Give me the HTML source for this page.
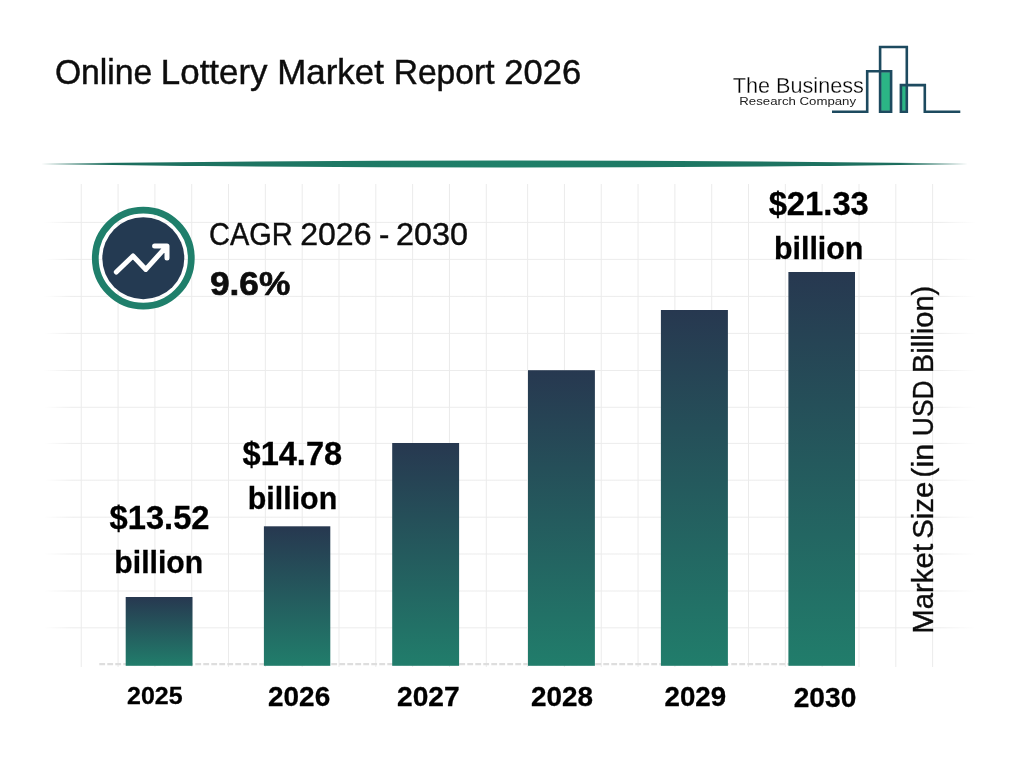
<!DOCTYPE html>
<html lang="en"><head><meta charset="utf-8"><title>Online Lottery Market Report 2026</title>
<style>html,body{margin:0;padding:0;background:#fff;}body{width:1024px;height:768px;overflow:hidden;position:relative;font-family:"Liberation Sans",sans-serif;}svg{display:block;position:absolute;left:0;top:0}text{font-family:"Liberation Sans",sans-serif;}.b{font-weight:bold}</style></head><body>
<svg width="1024" height="768" viewBox="0 0 1024 768">
<defs>
<linearGradient id="bar" x1="0" y1="0" x2="0" y2="1"><stop offset="0" stop-color="#273850"/><stop offset="1" stop-color="#217d6b"/></linearGradient>
<linearGradient id="hl" gradientUnits="userSpaceOnUse" x1="44" y1="0" x2="976" y2="0"><stop offset="0" stop-color="#ececec" stop-opacity="0"/><stop offset="0.03" stop-color="#ececec"/><stop offset="0.96" stop-color="#ececec"/><stop offset="1" stop-color="#ececec" stop-opacity="0"/></linearGradient>
<linearGradient id="div" gradientUnits="userSpaceOnUse" x1="41" y1="0" x2="968" y2="0"><stop offset="0" stop-color="#1c6b5c"/><stop offset="0.5" stop-color="#1f8069"/><stop offset="1" stop-color="#1c6b5c"/></linearGradient>
</defs>
<rect width="1024" height="768" fill="#ffffff"/>
<g id="grid">
<rect x="44" y="221.90" width="932" height="1" fill="url(#hl)"/>
<rect x="44" y="258.90" width="932" height="1" fill="url(#hl)"/>
<rect x="44" y="295.90" width="932" height="1" fill="url(#hl)"/>
<rect x="44" y="332.90" width="932" height="1" fill="url(#hl)"/>
<rect x="44" y="370.00" width="932" height="1" fill="url(#hl)"/>
<rect x="44" y="406.80" width="932" height="1" fill="url(#hl)"/>
<rect x="44" y="442.90" width="932" height="1" fill="url(#hl)"/>
<rect x="44" y="479.70" width="932" height="1" fill="url(#hl)"/>
<rect x="44" y="516.70" width="932" height="1" fill="url(#hl)"/>
<rect x="44" y="553.50" width="932" height="1" fill="url(#hl)"/>
<rect x="44" y="590.50" width="932" height="1" fill="url(#hl)"/>
<rect x="44" y="627.30" width="932" height="1" fill="url(#hl)"/>
<rect x="80.75" y="184" width="1" height="483" fill="#ebebeb"/>
<rect x="117.57" y="184" width="1" height="483" fill="#ebebeb"/>
<rect x="154.39" y="184" width="1" height="483" fill="#ebebeb"/>
<rect x="191.21" y="184" width="1" height="483" fill="#ebebeb"/>
<rect x="228.03" y="184" width="1" height="483" fill="#ebebeb"/>
<rect x="264.85" y="184" width="1" height="483" fill="#ebebeb"/>
<rect x="301.67" y="184" width="1" height="483" fill="#ebebeb"/>
<rect x="338.49" y="184" width="1" height="483" fill="#ebebeb"/>
<rect x="375.31" y="184" width="1" height="483" fill="#ebebeb"/>
<rect x="412.13" y="184" width="1" height="483" fill="#ebebeb"/>
<rect x="448.95" y="184" width="1" height="483" fill="#ebebeb"/>
<rect x="485.77" y="184" width="1" height="483" fill="#ebebeb"/>
<rect x="527.10" y="184" width="1" height="483" fill="#ebebeb"/>
<rect x="563.92" y="184" width="1" height="483" fill="#ebebeb"/>
<rect x="600.74" y="184" width="1" height="483" fill="#ebebeb"/>
<rect x="637.56" y="184" width="1" height="483" fill="#ebebeb"/>
<rect x="674.38" y="184" width="1" height="483" fill="#ebebeb"/>
<rect x="711.20" y="184" width="1" height="483" fill="#ebebeb"/>
<rect x="748.02" y="184" width="1" height="483" fill="#ebebeb"/>
<rect x="784.84" y="184" width="1" height="483" fill="#ebebeb"/>
<rect x="821.66" y="184" width="1" height="483" fill="#ebebeb"/>
<rect x="858.48" y="184" width="1" height="483" fill="#ebebeb"/>
<rect x="895.30" y="184" width="1" height="483" fill="#ebebeb"/>
<rect x="932.12" y="184" width="1" height="483" fill="#ebebeb"/>
</g>
<path id="divider" d="M41,164 Q504.5,157 968,164 Q504.5,171 41,164 Z" fill="url(#div)"/>
<line id="axis" x1="99.3" y1="664.1" x2="790" y2="664.1" stroke="#dedede" stroke-width="2.2" stroke-dasharray="5.8 2.2"/>
<g id="bars">
<rect x="125.7" y="597.0" width="66.8" height="68.8" fill="url(#bar)"/>
<rect x="263.9" y="526.3" width="66.4" height="139.5" fill="url(#bar)"/>
<rect x="392.2" y="443.0" width="66.9" height="222.8" fill="url(#bar)"/>
<rect x="528.0" y="370.2" width="66.9" height="295.6" fill="url(#bar)"/>
<rect x="660.9" y="310.0" width="67.0" height="355.8" fill="url(#bar)"/>
<rect x="788.4" y="272.0" width="66.6" height="393.8" fill="url(#bar)"/>
</g>
<g id="icon"><circle cx="143.3" cy="258.2" r="48" fill="none" stroke="#1f7f6b" stroke-width="6.8"/><circle cx="143.3" cy="258.2" r="41" fill="#243a52"/>
<path d="M116.3,272 L133,256 L145.8,269.4 L166.4,246.6 M154.6,246 H167 V258" fill="none" stroke="#fff" stroke-width="5" stroke-linecap="round" stroke-linejoin="round"/></g>
<g id="logo" fill="none" stroke="#1d4a5f" stroke-width="2.6" stroke-linejoin="miter">
<rect x="881.1" y="72.2" width="9.2" height="38.6" fill="#2bb585" stroke="none"/>
<rect x="901.9" y="86.1" width="4.2" height="24.7" fill="#2bb585" stroke="none"/>
<path d="M832,111.7 H867.2 V71.2 H891.1 V111.7 H880.1 V47 H906.8 V111.7 H900.9 V85.1 H924.8 V111.7 H960.3"/>
</g>
<g id="labels">
<text id="title" font-size="34.57" fill="#0d0d0d" stroke="#0d0d0d" stroke-width="0.45"><tspan x="54.92" y="83.80" textLength="97.38" lengthAdjust="spacingAndGlyphs">Online</tspan> <tspan x="160.83" y="83.80" textLength="106.69" lengthAdjust="spacingAndGlyphs">Lottery</tspan> <tspan x="277.28" y="83.80" textLength="106.59" lengthAdjust="spacingAndGlyphs">Market</tspan> <tspan x="393.63" y="83.80" textLength="100.91" lengthAdjust="spacingAndGlyphs">Report</tspan> <tspan x="504.36" y="83.80" textLength="76.85" lengthAdjust="spacingAndGlyphs">2026</tspan></text>
<text id="logo1" font-size="22.17" fill="#000000" stroke="#ffffff" stroke-width="0.3"><tspan x="732.75" y="92.50" textLength="131.16" lengthAdjust="spacingAndGlyphs">The Business</tspan></text>
<text id="logo2" font-size="11.84" fill="#222222"><tspan x="739.30" y="104.70" textLength="116.73" lengthAdjust="spacingAndGlyphs">Research Company</tspan></text>
<text id="cagr" font-size="30.54" fill="#0d0d0d" stroke="#0d0d0d" stroke-width="0.4"><tspan x="209.07" y="244.90" textLength="83.61" lengthAdjust="spacingAndGlyphs">CAGR</tspan> <tspan x="300.20" y="244.90" textLength="71.34" lengthAdjust="spacingAndGlyphs">2026</tspan> <tspan x="378.96" y="244.90" textLength="10.35" lengthAdjust="spacingAndGlyphs">-</tspan> <tspan x="395.98" y="244.90" textLength="72.19" lengthAdjust="spacingAndGlyphs">2030</tspan></text>
<text id="pct" font-size="32.68" fill="#0d0d0d" stroke="#0d0d0d" stroke-width="0.6" class="b"><tspan x="209.90" y="295.00" textLength="80.39" lengthAdjust="spacingAndGlyphs">9.6%</tspan></text>
<text id="v1a" font-size="32.32" fill="#000" stroke="#000" stroke-width="0.3" class="b"><tspan x="109.57" y="529.00" textLength="99.96" lengthAdjust="spacingAndGlyphs">$13.52</tspan></text>
<text id="v1b" font-size="31.82" fill="#000" stroke="#000" stroke-width="0.3" class="b"><tspan x="114.37" y="572.60" textLength="88.77" lengthAdjust="spacingAndGlyphs">billion</tspan></text>
<text id="v2a" font-size="32.32" fill="#000" stroke="#000" stroke-width="0.3" class="b"><tspan x="242.54" y="464.70" textLength="99.62" lengthAdjust="spacingAndGlyphs">$14.78</tspan></text>
<text id="v2b" font-size="31.82" fill="#000" stroke="#000" stroke-width="0.3" class="b"><tspan x="247.77" y="508.60" textLength="89.47" lengthAdjust="spacingAndGlyphs">billion</tspan></text>
<text id="v3a" font-size="32.32" fill="#000" stroke="#000" stroke-width="0.3" class="b"><tspan x="768.66" y="215.00" textLength="100.17" lengthAdjust="spacingAndGlyphs">$21.33</tspan></text>
<text id="v3b" font-size="31.82" fill="#000" stroke="#000" stroke-width="0.3" class="b"><tspan x="773.94" y="258.60" textLength="89.45" lengthAdjust="spacingAndGlyphs">billion</tspan></text>
<text id="y2025" font-size="24.37" fill="#000" stroke="#000" stroke-width="0.3" class="b"><tspan x="127.00" y="703.90" textLength="55.54" lengthAdjust="spacingAndGlyphs">2025</tspan></text>
<text id="y2026" font-size="27.61" fill="#000" stroke="#000" stroke-width="0.3" class="b"><tspan x="268.05" y="706.20" textLength="62.12" lengthAdjust="spacingAndGlyphs">2026</tspan></text>
<text id="y2027" font-size="27.61" fill="#000" stroke="#000" stroke-width="0.3" class="b"><tspan x="397.00" y="706.20" textLength="62.67" lengthAdjust="spacingAndGlyphs">2027</tspan></text>
<text id="y2028" font-size="27.61" fill="#000" stroke="#000" stroke-width="0.3" class="b"><tspan x="531.13" y="706.20" textLength="61.94" lengthAdjust="spacingAndGlyphs">2028</tspan></text>
<text id="y2029" font-size="27.61" fill="#000" stroke="#000" stroke-width="0.3" class="b"><tspan x="664.52" y="706.20" textLength="61.69" lengthAdjust="spacingAndGlyphs">2029</tspan></text>
<text id="y2030" font-size="28.03" fill="#000" stroke="#000" stroke-width="0.3" class="b"><tspan x="793.73" y="707.30" textLength="62.57" lengthAdjust="spacingAndGlyphs">2030</tspan></text>
<text id="ylab" font-size="29.49" fill="#0d0d0d" stroke="#0d0d0d" stroke-width="0.35" transform="translate(933.20 0) rotate(-90)"><tspan x="-633.84" y="0" textLength="89.92" lengthAdjust="spacingAndGlyphs">Market</tspan> <tspan x="-538.84" y="0" textLength="57.17" lengthAdjust="spacingAndGlyphs">Size</tspan> <tspan x="-477.68" y="0" textLength="33.84" lengthAdjust="spacingAndGlyphs">(in</tspan> <tspan x="-436.22" y="0" textLength="55.87" lengthAdjust="spacingAndGlyphs">USD</tspan> <tspan x="-373.20" y="0" textLength="87.49" lengthAdjust="spacingAndGlyphs">Billion)</tspan></text>
</g>
</svg></body></html>
